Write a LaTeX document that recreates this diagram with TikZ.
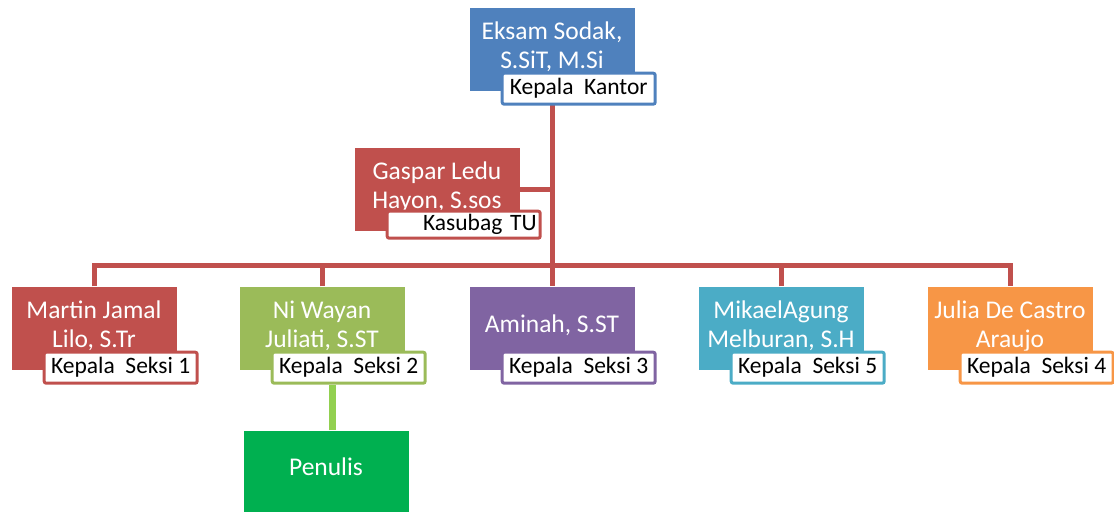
\documentclass[tikz,border=0pt]{standalone}
\usepackage{fontspec}
\setmainfont{Carlito}
\usetikzlibrary{backgrounds}

\definecolor{ofblue}{HTML}{4F81BD}
\definecolor{ofred}{HTML}{C0504D}
\definecolor{ofolive}{HTML}{9BBB59}
\definecolor{ofpurple}{HTML}{8064A2}
\definecolor{ofaqua}{HTML}{4BACC6}
\definecolor{oforange}{HTML}{F79646}
\definecolor{ofgreen}{HTML}{00B050}
\definecolor{oflime}{HTML}{92D050}

\tikzset{
  person/.style={fill=#1, text=white, minimum width=165pt, minimum height=83pt,
    align=center, inner sep=2pt, font=\fontsize{25.5}{29}\selectfont},
  role/.style={draw=#1, line width=3pt, fill=white, rounded corners=2pt,
    minimum width=153pt, minimum height=31pt, inner sep=1pt,
    font=\fontsize{23.5}{26}\selectfont},
  link/.style={draw=ofred, line width=5pt}
}

\begin{document}
\begin{tikzpicture}[x=1pt,y=-1pt]
\useasboundingbox (0,0) rectangle (1114,512);

% kepala kantor
\node (kantor) at (552,49) [person=ofblue]{Eksam Sodak,\\S.SiT, M.Si\\[-21pt]};
\node (kantor-1) [role=ofblue, anchor=south east] at ([xshift=22pt,yshift=-15pt]kantor.south east){Kepala~~Kantor};

% kasubag
\node (tu) at (437,189) [person=ofred]{Gaspar Ledu\\Hayon, S.sos\\[-21pt]};
\node (tu-1) [role=ofred, anchor=south east, minimum height=27pt, text width=146pt, align=right] at ([xshift=22pt,yshift=-9pt]tu.south east){Kasubag TU};

% seksi
\node (seksi1) at (94,328) [person=ofred]{Martin Jamal\\Lilo, S.Tr\\[-21pt]};
\node (seksi1-1) [role=ofred, anchor=south east] at ([xshift=22pt,yshift=-15pt]seksi1.south east){Kepala~~Seksi 1};

\node (seksi2) at (322,328) [person=ofolive]{Ni Wayan\\Juliati, S.ST\\[-21pt]};
\node (seksi2-1) [role=ofolive, anchor=south east] at ([xshift=22pt,yshift=-15pt]seksi2.south east){Kepala~~Seksi 2};

\node (seksi3) at (552,328) [person=ofpurple]{Aminah, S.ST\\[-21pt]};
\node (seksi3-1) [role=ofpurple, anchor=south east] at ([xshift=22pt,yshift=-15pt]seksi3.south east){Kepala~~Seksi 3};

\node (seksi5) at (781,328) [person=ofaqua]{MikaelAgung\\Melburan, S.H\\[-21pt]};
\node (seksi5-1) [role=ofaqua, anchor=south east] at ([xshift=22pt,yshift=-15pt]seksi5.south east){Kepala~~Seksi 5};

\node (seksi4) at (1010,328) [person=oforange]{Julia De Castro\\Araujo\\[-21pt]};
\node (seksi4-1) [role=oforange, anchor=south east] at ([xshift=22pt,yshift=-15pt]seksi4.south east){Kepala~~Seksi 4};

\node (penulis) at (326,471) [person=ofgreen, minimum height=81pt]{Penulis\\[-21pt]};

\coordinate (bar) at (552,265);

\begin{scope}[on background layer]
\draw [link] (kantor.south) -- (bar);
\draw [link] (tu.east) -- (tu.east -| kantor.south);
\draw [link] (seksi1.north) |- (bar) -| (seksi4.north);
\draw [link] (seksi2.north) -- (seksi2.north |- bar);
\draw [link] (seksi5.north) -- (seksi5.north |- bar);
\draw [link] (bar) -- (seksi3.north);
\draw [draw=oflime, line width=7pt] ([xshift=6pt]penulis.north) -- ([xshift=6pt]penulis.north |- seksi2-1.south);
\end{scope}
\end{tikzpicture}
\end{document}
